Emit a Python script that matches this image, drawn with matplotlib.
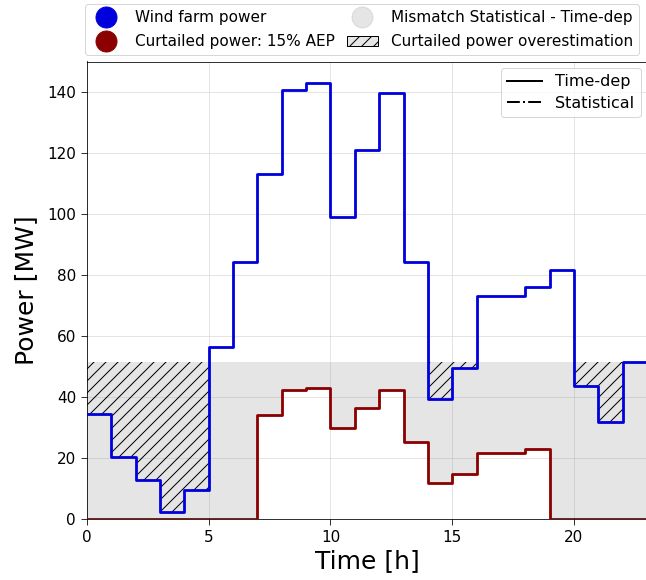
import numpy as np
import matplotlib
matplotlib.use("Agg")
import matplotlib.pyplot as plt
from matplotlib.lines import Line2D
from matplotlib.patches import Patch

# hourly values (MW), hour i covers [i, i+1)
hours = np.arange(0, 24)
wind_power = [34.4, 20.3, 12.8, 2.3, 9.6, 56.5, 84.3, 113.2, 140.6, 143.1,
              99.1, 120.9, 139.7, 84.4, 39.4, 49.4, 73.0, 73.0, 76.0, 81.7,
              43.5, 31.8, 51.5]
curtailed_td = [0, 0, 0, 0, 0, 0, 0, 34.0, 42.3, 43.0,
                29.7, 36.4, 42.2, 25.3, 11.7, 14.9, 21.8, 21.8, 22.9, 0,
                0, 0, 0]
curtailed_stat = 51.5  # statistical curtailment level

wind = np.array(wind_power)
red = np.array(curtailed_td)
stat = np.full(len(wind), curtailed_stat)
# repeat last value so the step reaches x=23
wind_ext = np.append(wind, wind[-1])
red_ext = np.append(red, red[-1])
stat_ext = np.append(stat, stat[-1])

fig = plt.figure(figsize=(646 / 72, 580 / 72), dpi=72)
ax = fig.add_axes([87 / 646, 61 / 580, 560 / 646, 457.5 / 580])

# mismatch between statistical and time-dependent curtailment
ax.fill_between(hours, red_ext, stat_ext, step='post', color='gray',
                alpha=0.2, linewidth=0, zorder=1)
# overestimation: statistical curtailment above available wind power
ax.fill_between(hours, np.minimum(wind_ext, stat_ext), stat_ext, step='post',
                facecolor='none', edgecolor='black', hatch='//',
                linewidth=0, zorder=2)

ax.step(hours, wind_ext, where='post', color='#0000dd', lw=2.8, zorder=3)
ax.step(hours, red_ext, where='post', color='darkred', lw=2.8, zorder=3)

ax.set_xlim(0, 23)
ax.set_ylim(0, 150)
ax.set_xticks([0, 5, 10, 15, 20])
ax.set_yticks(np.arange(0, 141, 20))
ax.tick_params(labelsize=15.2, length=6, pad=5)
ax.grid(True, color='lightgray', alpha=0.6, lw=1)
ax.set_axisbelow(True)
ax.set_xlabel('Time [h]', fontsize=25)
ax.set_ylabel('Power [MW]', fontsize=25, labelpad=9)
ax.spines['right'].set_visible(False)

style_leg = ax.legend(handles=[Line2D([], [], color='black', lw=2, ls='-'),
                               Line2D([], [], color='black', lw=2, ls='-.')],
                      labels=['Time-dep', 'Statistical'], loc='upper right',
                      fontsize=16, handlelength=2.2, labelspacing=0.4,
                      borderaxespad=0.4)

handles = [
    Line2D([], [], marker='o', ls='none', color='#0000dd', markersize=21),
    Line2D([], [], marker='o', ls='none', color='darkred', markersize=21),
    Line2D([], [], marker='o', ls='none', color='gray', alpha=0.2, markersize=21),
    Patch(facecolor='#e6e6e6', edgecolor='black', hatch='//'),
]
labels = ['Wind farm power', 'Curtailed power: 15% AEP',
          'Mismatch Statistical - Time-dep', 'Curtailed power overestimation']
fig.legend(handles, labels, ncol=2, loc='upper left',
           bbox_to_anchor=(85 / 646, 1 - 4 / 580), borderaxespad=0,
           fontsize=15.2, handletextpad=0.9, columnspacing=0.8,
           labelspacing=0.6, handlelength=2.0)

fig.savefig('out.png', dpi=72)
